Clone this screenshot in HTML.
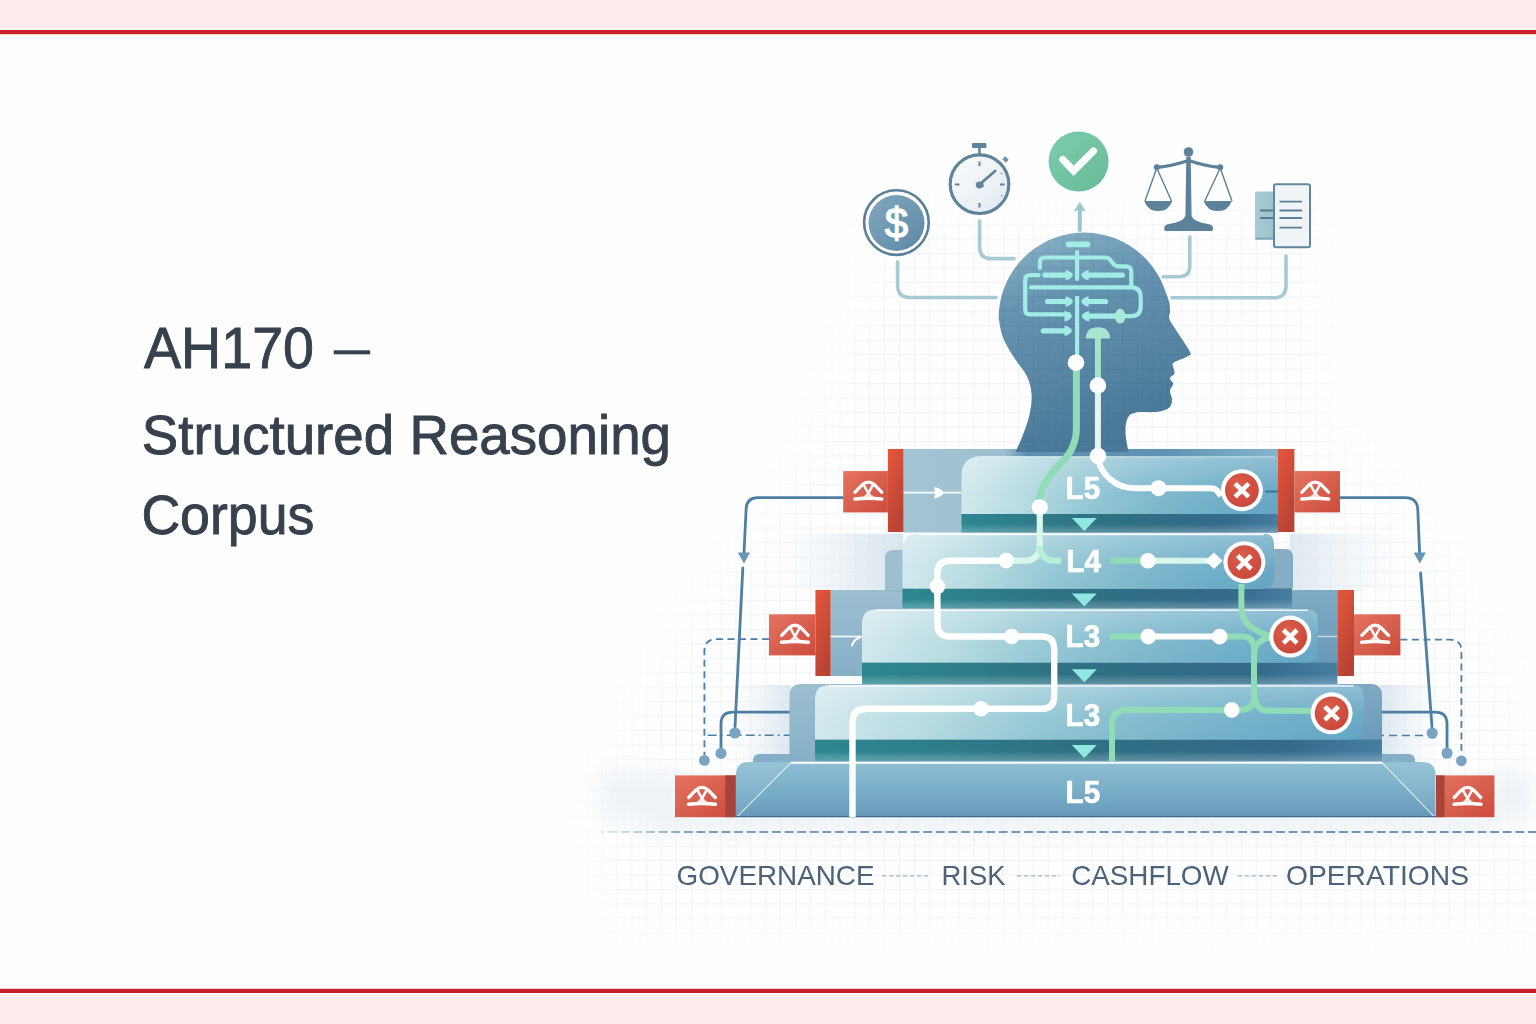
<!DOCTYPE html>
<html><head><meta charset="utf-8"><title>AH170 — Structured Reasoning Corpus</title>
<style>
html,body{margin:0;padding:0;background:#fefefe;}
body{width:1536px;height:1024px;overflow:hidden;position:relative;font-family:"Liberation Sans",sans-serif;}
svg{position:absolute;left:0;top:0;}
</style></head>
<body>
<svg width="1536" height="1024" viewBox="0 0 1536 1024">
<rect x="0" y="0" width="1536" height="1024" fill="#fefefe"/>
<rect x="0" y="0" width="1536" height="28.5" fill="#fcebed"/>
<rect x="0" y="30" width="1536" height="4.2" fill="#cb1f27"/>
<rect x="0" y="988.8" width="1536" height="4.2" fill="#c81e27"/>
<rect x="0" y="994.5" width="1536" height="29.5" fill="#fcebed"/>
<g font-family="Liberation Sans" fill="#36414d" font-size="56" stroke="#36414d" stroke-width="0.9">
<text x="144" y="367.7" font-size="57.5" textLength="170" lengthAdjust="spacingAndGlyphs">AH170</text>
<rect x="333.7" y="350.3" width="36.5" height="4" fill="#36414d" stroke="none"/>
<text x="141.8" y="453.6" textLength="529.2" lengthAdjust="spacingAndGlyphs">Structured Reasoning</text>
<text x="141.4" y="534" textLength="172.9" lengthAdjust="spacingAndGlyphs">Corpus</text>
</g>
<defs>
<pattern id="grid" width="14.867" height="14.454" patternUnits="userSpaceOnUse" x="7" y="7.2">
  <path d="M0 0.5H14.867M0.5 0V14.454" stroke="#e8eef3" stroke-width="1.2" fill="none"/>
</pattern>
<pattern id="gridd" width="14.867" height="14.454" patternUnits="userSpaceOnUse" x="7" y="7.2">
  <path d="M0 0.5H14.867M0.5 0V14.454" stroke="#2c5a78" stroke-opacity="0.12" stroke-width="1" fill="none"/>
</pattern>
<radialGradient id="gridfade" cx="1085" cy="620" r="440" gradientUnits="userSpaceOnUse" gradientTransform="translate(1085 620) scale(1 0.95) translate(-1085 -620)">
  <stop offset="0" stop-color="#fff" stop-opacity="0.55"/>
  <stop offset="0.7" stop-color="#fff" stop-opacity="0.42"/>
  <stop offset="1" stop-color="#fff" stop-opacity="0"/>
</radialGradient>
<filter id="mblur" x="-20%" y="-20%" width="140%" height="140%"><feGaussianBlur stdDeviation="22"/></filter><mask id="gmask" maskUnits="userSpaceOnUse" x="0" y="0" width="1536" height="1024"><path d="M885 214L1310 212L1330 430L1440 540L1515 690L1536 760L1536 930L600 930L598 770L690 610L785 490L850 340Z" fill="#fff" fill-opacity="0.6" filter="url(#mblur)"/></mask>
<linearGradient id="headg" x1="0" y1="0" x2="0.3" y2="1">
  <stop offset="0" stop-color="#8fb6c9"/>
  <stop offset="0.35" stop-color="#6593b0"/>
  <stop offset="1" stop-color="#4a7898"/>
</linearGradient>
<linearGradient id="coin" x1="0" y1="0" x2="1" y2="1">
  <stop offset="0" stop-color="#82a8bf"/>
  <stop offset="1" stop-color="#5c88a5"/>
</linearGradient>
<linearGradient id="watch" x1="0" y1="0" x2="1" y2="1">
  <stop offset="0" stop-color="#fbfcfd"/>
  <stop offset="1" stop-color="#e0e9ef"/>
</linearGradient>
<linearGradient id="chk" x1="0" y1="0" x2="1" y2="1">
  <stop offset="0" stop-color="#7ccdab"/>
  <stop offset="1" stop-color="#68bb98"/>
</linearGradient>
<linearGradient id="backA" x1="903" y1="0" x2="1278" y2="0" gradientUnits="userSpaceOnUse">
  <stop offset="0" stop-color="#a3c4d3"/>
  <stop offset="0.27" stop-color="#9dbfcf"/>
  <stop offset="0.33" stop-color="#5e8fb0"/>
  <stop offset="0.7" stop-color="#5f92b3"/>
  <stop offset="1" stop-color="#86b6cc"/>
</linearGradient>
<linearGradient id="backR" x1="0" y1="0" x2="0" y2="1">
  <stop offset="0" stop-color="#7eaac4"/>
  <stop offset="1" stop-color="#6596b6"/>
</linearGradient>
<linearGradient id="backp" x1="0" y1="0" x2="0" y2="1">
  <stop offset="0" stop-color="#9cbfd0"/>
  <stop offset="1" stop-color="#86afc6"/>
</linearGradient>
<linearGradient id="stepL" x1="0" y1="0" x2="1" y2="0">
  <stop offset="0" stop-color="#d0e8ec"/>
  <stop offset="0.2" stop-color="#b4dae0"/>
  <stop offset="0.4" stop-color="#93c6d4"/>
  <stop offset="0.6" stop-color="#7db8cc"/>
  <stop offset="0.8" stop-color="#6eaec8"/>
  <stop offset="1" stop-color="#64a5c3"/>
</linearGradient>
<linearGradient id="stepV" x1="0" y1="0" x2="0" y2="1">
  <stop offset="0" stop-color="#fff" stop-opacity="0.28"/>
  <stop offset="0.6" stop-color="#fff" stop-opacity="0.05"/>
  <stop offset="1" stop-color="#fff" stop-opacity="0"/>
</linearGradient>
<linearGradient id="band" x1="0" y1="0" x2="1" y2="0">
  <stop offset="0" stop-color="#2d8791"/>
  <stop offset="0.45" stop-color="#2f7183"/>
  <stop offset="0.82" stop-color="#336a89"/>
  <stop offset="1" stop-color="#467ea1"/>
</linearGradient>
<linearGradient id="bandV" x1="0" y1="0" x2="0" y2="1">
  <stop offset="0" stop-color="#ffffff" stop-opacity="0"/>
  <stop offset="0.55" stop-color="#ffffff" stop-opacity="0"/>
  <stop offset="1" stop-color="#cfe6ef" stop-opacity="0.28"/>
</linearGradient>
<linearGradient id="baseg" x1="0" y1="0" x2="0" y2="1">
  <stop offset="0" stop-color="#8ebed2"/>
  <stop offset="0.5" stop-color="#7aafc9"/>
  <stop offset="1" stop-color="#6699ba"/>
</linearGradient>
<linearGradient id="redsq" x1="0" y1="0" x2="1" y2="1">
  <stop offset="0" stop-color="#e4735f"/>
  <stop offset="1" stop-color="#cc4c3d"/>
</linearGradient>
<linearGradient id="redbar" x1="0" y1="0" x2="0.5" y2="1">
  <stop offset="0" stop-color="#e6583b"/>
  <stop offset="1" stop-color="#b84334"/>
</linearGradient>
<radialGradient id="xred" cx="0.4" cy="0.35" r="0.7">
  <stop offset="0" stop-color="#dd5e4c"/>
  <stop offset="1" stop-color="#c9473a"/>
</radialGradient>
<filter id="blur8" x="-50%" y="-50%" width="200%" height="200%"><feGaussianBlur stdDeviation="10"/></filter>
<filter id="blur4" x="-50%" y="-50%" width="200%" height="200%"><feGaussianBlur stdDeviation="4"/></filter>
<clipPath id="headclip"><path d="M1015.6 452 C1016.8 449.4 1020.2 442.2 1022.5 436.1 C1024.8 430.0 1027.8 422.4 1029.3 415.5 C1030.8 408.6 1032.0 401.3 1031.6 394.8 C1031.2 388.3 1029.9 382.5 1027.0 376.4 C1024.1 370.3 1018.4 364.6 1014.4 358.1 C1010.4 351.6 1005.6 344.1 1003.0 337.4 C1000.4 330.7 999.3 321.2 998.6 318.0 A85.6 85.6 0 0 1 1166 293 C1166.6 294.7 1168.7 299.8 1169.4 303.0 C1170.1 306.2 1170.0 309.2 1170.0 312.0 C1170.0 314.8 1168.1 315.8 1169.6 319.5 C1171.1 323.2 1175.6 329.1 1179.0 334.5 C1182.4 339.9 1188.5 348.4 1190.0 352.0 C1191.5 355.6 1190.9 354.2 1188.2 356.0 C1185.5 357.8 1176.3 360.7 1173.8 362.6 C1171.3 364.5 1173.3 365.7 1173.4 367.5 C1173.5 369.3 1175.1 371.7 1174.5 373.5 C1173.9 375.3 1170.0 376.7 1169.8 378.4 C1169.6 380.1 1173.2 381.6 1173.2 383.7 C1173.2 385.8 1170.2 388.1 1170.0 390.7 C1169.8 393.3 1172.1 396.7 1172.0 399.5 C1171.9 402.3 1171.7 405.3 1169.4 407.4 C1167.1 409.4 1163.7 410.9 1158.0 411.8 C1152.3 412.7 1140.2 411.5 1135.1 412.7 C1130.0 413.9 1129.0 415.4 1127.4 418.8 C1125.8 422.2 1125.3 427.4 1125.5 432.9 C1125.7 438.4 1128.0 448.8 1128.5 452.0Z"/></clipPath>
</defs>
<rect x="540" y="150" width="996" height="830" fill="url(#grid)" mask="url(#gmask)"/>
<linearGradient id="hzL" x1="0" y1="0" x2="1" y2="0"><stop offset="0" stop-color="#e2ebf2" stop-opacity="0"/><stop offset="1" stop-color="#d8e4ed"/></linearGradient><linearGradient id="hzR" x1="1" y1="0" x2="0" y2="0"><stop offset="0" stop-color="#e2ebf2" stop-opacity="0"/><stop offset="1" stop-color="#d8e4ed"/></linearGradient><linearGradient id="hzB" x1="0" y1="0" x2="0" y2="1"><stop offset="0" stop-color="#e4ecf2"/><stop offset="1" stop-color="#e4ecf2" stop-opacity="0"/></linearGradient>
<rect x="780" y="533.7" width="123" height="56" fill="url(#hzL)"/><rect x="1290" y="533.7" width="110" height="56" fill="url(#hzR)" opacity="0.8"/><rect x="735" y="685" width="56" height="76" fill="url(#hzL)" opacity="0.9"/><rect x="1380" y="685" width="56" height="76" fill="url(#hzR)" opacity="0.9"/>
<g filter="url(#blur4)"><rect x="840" y="595" width="30" height="80" fill="url(#hzL)" opacity="0.4"/><rect x="1310" y="595" width="30" height="80" fill="url(#hzR)" opacity="0.4"/></g><g filter="url(#blur8)"><rect x="640" y="812" width="860" height="30" fill="url(#hzB)"/><rect x="600" y="772" width="80" height="48" fill="#eef3f7"/><rect x="1490" y="772" width="40" height="48" fill="#eef3f7"/></g>
<g fill="none" stroke="#a8cad5" stroke-width="3.6" stroke-linecap="round"><path d="M897.6 262V285Q897.6 297.5 910 297.5H996"/><path d="M979.6 221V247Q979.6 258.6 991 258.6H1014"/><path d="M1189.8 237V266Q1189.8 276.7 1179 276.7H1163"/><path d="M1286 256V286Q1286 297.8 1274 297.8H1172"/><path d="M1079.8 230V210" stroke="#9cc5cf" stroke-width="4"/></g><path d="M1073.6 211.5L1079.8 202L1086 211.5Q1079.8 208.5 1073.6 211.5Z" fill="#9cc5cf"/>
<circle cx="896.4" cy="222.6" r="32.3" fill="#fff" stroke="#5b809b" stroke-width="2.6"/><circle cx="896.5" cy="223" r="28" fill="url(#coin)"/><text x="896.4" y="238.2" font-family="Liberation Sans" font-size="42" fill="#fff" text-anchor="middle" stroke="#fff" stroke-width="1.3">$</text>
<g stroke="#5e8499" fill="none"><circle cx="979.5" cy="184.2" r="29.3" fill="url(#watch)" stroke-width="3.2"/><path d="M979.5 148V154" stroke-width="2.6"/><path d="M979.5 161.5V166M979.5 203V207.5M955 184.5H959.5M1000 184.5H1004.5" stroke-width="2"/><path d="M1001 172.8L1002.5 174.2M1001 196.5L1002.4 195" stroke-width="1.2" opacity="0.7"/><path d="M979.5 184.5L995.2 171" stroke-width="2.8" stroke-linecap="round"/></g><rect x="972" y="143" width="14.4" height="5" rx="1.2" fill="#5e8499"/><rect x="1003" y="157.5" width="5" height="4" transform="rotate(45 1005.5 159.5)" fill="#6f93a6"/><path d="M975.5 183.5Q978 180 983 182.5L984 186Q981 190 976.5 187.5Z" fill="#5e8499"/>
<circle cx="1078.6" cy="161.5" r="30" fill="url(#chk)"/><path d="M1062.8 159.6L1073.6 170.8L1093.5 151" fill="none" stroke="#fff" stroke-width="7.2" stroke-linecap="round" stroke-linejoin="miter"/>
<g fill="#5d8199" stroke="#5d8199"><circle cx="1188.5" cy="152" r="4.8" stroke="none"/><path d="M1156.5 167.5Q1172 166 1188.5 160.5Q1205 166 1220.5 167.5" fill="none" stroke-width="3.4" stroke-linecap="round"/><circle cx="1156.8" cy="167.3" r="3" stroke="none"/><circle cx="1220.2" cy="167.3" r="3" stroke="none"/><path d="M1156.8 168L1145 201M1156.8 168L1171.5 201M1220.2 168L1204.8 201M1220.2 168L1232 201" fill="none" stroke-width="1.4"/><path d="M1144.3 201H1172.3Q1169 211 1158.3 211Q1147.6 211 1144.3 201Z" stroke="none"/><path d="M1203.8 201H1231.8Q1228.5 211 1217.8 211Q1207 211 1203.8 201Z" stroke="none"/><path d="M1186.3 157H1190.7L1191.6 216Q1194 222 1208 224Q1213 224.5 1213 228V229.5Q1213 231 1211 231H1166.3Q1164.3 231 1164.3 229.5V228Q1164.3 224.5 1169 224Q1183 222 1185.4 216Z" stroke="none"/></g>
<linearGradient id="docb" x1="0" y1="0" x2="1" y2="0"><stop offset="0" stop-color="#a6cbd3"/><stop offset="1" stop-color="#9cc2cc"/></linearGradient><rect x="1255" y="191.5" width="19" height="48.5" rx="1.5" fill="url(#docb)"/><path d="M1255.5 238.5H1273" stroke="#7aa3b4" stroke-width="1.5"/><path d="M1260 210.5H1273M1260 218H1273" stroke="#557d96" stroke-width="2"/><rect x="1274" y="184.3" width="36" height="63" rx="2" fill="#f0f4f7" stroke="#5f87a0" stroke-width="2"/><path d="M1279.5 201.7H1302M1279.5 210.5H1302M1279.5 218H1302M1279.5 227.7H1302" stroke="#5b7f98" stroke-width="1.8"/>
<g fill="none" stroke="#4d7fa5" stroke-width="2.8" stroke-linecap="round"><path d="M843 497.6H758Q746.3 497.6 746.1 509.5L744 553"/><path d="M742.8 568L735 727"/><path d="M1340 497.6H1405Q1417.5 497.6 1417.8 510L1419.6 553"/><path d="M1420.6 573L1432 727"/><path d="M815 712.2H733Q721 712.2 721 724V748" /><path d="M1363.6 712.2H1435Q1447 712.2 1447 724V748" /></g>
<path d="M737.8 552.5H750L744 563.5Z" fill="#6a94b3"/><path d="M1413.6 552.5H1425.8L1419.8 563.5Z" fill="#6a94b3"/>
<g fill="none" stroke="#4d7fa5" stroke-width="1.8" stroke-dasharray="7 4.5"><path d="M769 639.2H716Q704.4 639.2 704.4 651V755"/><path d="M1400.4 639.7H1450Q1461.4 639.7 1461.4 651V755"/></g><g fill="none" stroke="#4d7fa5" stroke-width="1.6" stroke-dasharray="9 4 2 4"><path d="M707.7 735.3H815"/></g><g fill="none" stroke="#4d7fa5" stroke-width="1.6" stroke-dasharray="8 5"><path d="M1363 735.5H1427"/></g>
<g fill="#7aa5c2"><circle cx="735" cy="733" r="5.6"/><circle cx="721" cy="753.4" r="5.6"/><circle cx="704.4" cy="760.4" r="5.4"/><circle cx="1432.2" cy="733.2" r="5.6"/><circle cx="1447" cy="753.2" r="5.6"/><circle cx="1461.4" cy="760.8" r="5.4"/></g>
<rect x="903.5" y="449" width="374.5" height="83.5" fill="url(#backA)"/>
<rect x="830.6" y="590" width="506.8" height="86" fill="url(#backp)"/>
<rect x="1290" y="590" width="47.4" height="86" fill="url(#backR)"/>
<path d="M789.5 760V696Q789.5 684 801.5 684H1370Q1382 684 1382 696V760Z" fill="url(#backp)"/>
<path d="M1340 760V684H1370Q1382 684 1382 696V760Z" fill="url(#backR)"/>
<path d="M885 592V558Q885 550 893 550H914V592Z" fill="#94b7cb" opacity="0.85"/>
<rect x="1262" y="549" width="31" height="44" rx="7" fill="#7aa4bf" opacity="0.9"/>
<path d="M1015.6 452 C1016.8 449.4 1020.2 442.2 1022.5 436.1 C1024.8 430.0 1027.8 422.4 1029.3 415.5 C1030.8 408.6 1032.0 401.3 1031.6 394.8 C1031.2 388.3 1029.9 382.5 1027.0 376.4 C1024.1 370.3 1018.4 364.6 1014.4 358.1 C1010.4 351.6 1005.6 344.1 1003.0 337.4 C1000.4 330.7 999.3 321.2 998.6 318.0 A85.6 85.6 0 0 1 1166 293 C1166.6 294.7 1168.7 299.8 1169.4 303.0 C1170.1 306.2 1170.0 309.2 1170.0 312.0 C1170.0 314.8 1168.1 315.8 1169.6 319.5 C1171.1 323.2 1175.6 329.1 1179.0 334.5 C1182.4 339.9 1188.5 348.4 1190.0 352.0 C1191.5 355.6 1190.9 354.2 1188.2 356.0 C1185.5 357.8 1176.3 360.7 1173.8 362.6 C1171.3 364.5 1173.3 365.7 1173.4 367.5 C1173.5 369.3 1175.1 371.7 1174.5 373.5 C1173.9 375.3 1170.0 376.7 1169.8 378.4 C1169.6 380.1 1173.2 381.6 1173.2 383.7 C1173.2 385.8 1170.2 388.1 1170.0 390.7 C1169.8 393.3 1172.1 396.7 1172.0 399.5 C1171.9 402.3 1171.7 405.3 1169.4 407.4 C1167.1 409.4 1163.7 410.9 1158.0 411.8 C1152.3 412.7 1140.2 411.5 1135.1 412.7 C1130.0 413.9 1129.0 415.4 1127.4 418.8 C1125.8 422.2 1125.3 427.4 1125.5 432.9 C1125.7 438.4 1128.0 448.8 1128.5 452.0Z" fill="url(#headg)"/>
<rect x="990" y="225" width="210" height="235" fill="url(#gridd)" clip-path="url(#headclip)"/>
<rect x="753" y="754" width="662" height="14" rx="6" fill="#84afc7"/>
<rect x="961.5" y="514" width="316.5" height="18.5" fill="url(#band)"/><rect x="961.5" y="514" width="316.5" height="18.5" fill="url(#bandV)"/><path d="M961.5 514V476.3Q961.5 456.3 981.5 456.3H1275Q1278 456.3 1278 459.3V511Q1278 514 1275 514Z" fill="url(#stepL)"/><path d="M961.5 514V476.3Q961.5 456.3 981.5 456.3H1275Q1278 456.3 1278 459.3V511Q1278 514 1275 514Z" fill="url(#stepV)"/><path d="M981.5 457.0H1275" stroke="#ffffff" stroke-opacity="0.35" stroke-width="1.6"/>
<rect x="902.5" y="588.4" width="389.5" height="19.800000000000068" fill="url(#band)"/><rect x="902.5" y="588.4" width="389.5" height="19.800000000000068" fill="url(#bandV)"/><path d="M902.5 588.4V549.7Q902.5 533.7 918.5 533.7H1264Q1274 533.7 1274 543.7V578.4Q1274 588.4 1264 588.4Z" fill="url(#stepL)"/><path d="M902.5 588.4V549.7Q902.5 533.7 918.5 533.7H1264Q1274 533.7 1274 543.7V578.4Q1274 588.4 1264 588.4Z" fill="url(#stepV)"/><path d="M918.5 534.4000000000001H1264" stroke="#ffffff" stroke-opacity="0.85" stroke-width="1.6"/>
<rect x="862" y="662.6" width="475.4000000000001" height="21.399999999999977" fill="url(#band)"/><rect x="862" y="662.6" width="475.4000000000001" height="21.399999999999977" fill="url(#bandV)"/><path d="M862 662.6V623.5Q862 609.5 876 609.5H1308Q1318 609.5 1318 619.5V652.6Q1318 662.6 1308 662.6Z" fill="url(#stepL)"/><path d="M862 662.6V623.5Q862 609.5 876 609.5H1308Q1318 609.5 1318 619.5V652.6Q1318 662.6 1308 662.6Z" fill="url(#stepV)"/><path d="M876 610.2H1308" stroke="#ffffff" stroke-opacity="0.85" stroke-width="1.6"/>
<rect x="815" y="739.5" width="567" height="21.299999999999955" fill="url(#band)"/><rect x="815" y="739.5" width="567" height="21.299999999999955" fill="url(#bandV)"/><path d="M815 739.5V699.3Q815 685.3 829 685.3H1353.6Q1363.6 685.3 1363.6 695.3V729.5Q1363.6 739.5 1353.6 739.5Z" fill="url(#stepL)"/><path d="M815 739.5V699.3Q815 685.3 829 685.3H1353.6Q1363.6 685.3 1363.6 695.3V729.5Q1363.6 739.5 1353.6 739.5Z" fill="url(#stepV)"/><path d="M829 686.0H1353.6" stroke="#ffffff" stroke-opacity="0.85" stroke-width="1.6"/>
<path d="M736 817V775Q736 762 749 762H1422Q1435.5 762 1435.5 775V817Z" fill="url(#baseg)"/>
<path d="M791 762.5L737 816.5L736 817V775Q736 762 749 762Z" fill="#ffffff" fill-opacity="0.08"/>
<path d="M1382 762.5L1434 816.5L1435.5 817V775Q1435.5 762 1422 762Z" fill="#ffffff" fill-opacity="0.08"/>
<path d="M791 762.6L737.5 816.3M1382 762.6L1434 816.3" stroke="#e8f4f8" stroke-width="1.1" opacity="0.9"/>
<path d="M791 762.8H1382" stroke="#ffffff" stroke-width="2"/>
<path d="M736 816.6H1436" stroke="#3b6e92" stroke-width="1.4"/>
<rect x="843.2" y="471.1" width="44.69999999999993" height="41.299999999999955" fill="url(#redsq)"/><rect x="887.9" y="449" width="15.600000000000023" height="83" fill="url(#redbar)"/><path d="M860.8499999999999 498.20000000000005L868.3499999999999 491.90000000000003L875.8499999999999 498.20000000000005Z" fill="#f6d2ca" opacity="0.85"/><g fill="none" stroke="#fff" stroke-linecap="round" stroke-linejoin="round"><path d="M855.05 492.20000000000005L862.3499999999999 484.6Q868.3499999999999 479.6 874.3499999999999 484.6L881.6499999999999 492.20000000000005" stroke-width="3.3"/><path d="M854.9499999999999 499.00000000000006Q868.3499999999999 497.40000000000003 881.7499999999999 499.00000000000006" stroke-width="3.5"/><path d="M863.7499999999999 484.8L868.3499999999999 493.40000000000003L872.9499999999999 484.8" stroke-width="2.6" stroke-opacity="0.95"/><path d="M868.3499999999999 493.40000000000003L864.9499999999999 498.00000000000006M868.3499999999999 493.40000000000003L871.7499999999999 498.00000000000006" stroke-width="1.5" stroke-opacity="0.8"/></g>
<rect x="1294.4" y="471.1" width="45.59999999999991" height="41.299999999999955" fill="url(#redsq)"/><rect x="1278" y="449" width="16.40000000000009" height="83" fill="url(#redbar)"/><path d="M1307.7 498.20000000000005L1315.2 491.90000000000003L1322.7 498.20000000000005Z" fill="#f6d2ca" opacity="0.85"/><g fill="none" stroke="#fff" stroke-linecap="round" stroke-linejoin="round"><path d="M1301.9 492.20000000000005L1309.2 484.6Q1315.2 479.6 1321.2 484.6L1328.5 492.20000000000005" stroke-width="3.3"/><path d="M1301.8 499.00000000000006Q1315.2 497.40000000000003 1328.6000000000001 499.00000000000006" stroke-width="3.5"/><path d="M1310.6000000000001 484.8L1315.2 493.40000000000003L1319.8 484.8" stroke-width="2.6" stroke-opacity="0.95"/><path d="M1315.2 493.40000000000003L1311.8 498.00000000000006M1315.2 493.40000000000003L1318.6000000000001 498.00000000000006" stroke-width="1.5" stroke-opacity="0.8"/></g>
<rect x="769" y="614.3" width="46.39999999999998" height="41.10000000000002" fill="url(#redsq)"/><rect x="815.4" y="590" width="15.200000000000045" height="86" fill="url(#redbar)"/><path d="M787.5 641.3999999999999L795.0 635.0999999999999L802.5 641.3999999999999Z" fill="#f6d2ca" opacity="0.85"/><g fill="none" stroke="#fff" stroke-linecap="round" stroke-linejoin="round"><path d="M781.7 635.3999999999999L789.0 627.8Q795.0 622.8 801.0 627.8L808.3 635.3999999999999" stroke-width="3.3"/><path d="M781.6 642.1999999999999Q795.0 640.5999999999999 808.4 642.1999999999999" stroke-width="3.5"/><path d="M790.4 627.9999999999999L795.0 636.5999999999999L799.6 627.9999999999999" stroke-width="2.6" stroke-opacity="0.95"/><path d="M795.0 636.5999999999999L791.6 641.1999999999999M795.0 636.5999999999999L798.4 641.1999999999999" stroke-width="1.5" stroke-opacity="0.8"/></g>
<rect x="1354" y="614.3" width="46.40000000000009" height="41.10000000000002" fill="url(#redsq)"/><rect x="1337.4" y="590" width="16.59999999999991" height="86" fill="url(#redbar)"/><path d="M1367.7 641.3999999999999L1375.2 635.0999999999999L1382.7 641.3999999999999Z" fill="#f6d2ca" opacity="0.85"/><g fill="none" stroke="#fff" stroke-linecap="round" stroke-linejoin="round"><path d="M1361.9 635.3999999999999L1369.2 627.8Q1375.2 622.8 1381.2 627.8L1388.5 635.3999999999999" stroke-width="3.3"/><path d="M1361.8 642.1999999999999Q1375.2 640.5999999999999 1388.6000000000001 642.1999999999999" stroke-width="3.5"/><path d="M1370.6000000000001 627.9999999999999L1375.2 636.5999999999999L1379.8 627.9999999999999" stroke-width="2.6" stroke-opacity="0.95"/><path d="M1375.2 636.5999999999999L1371.8 641.1999999999999M1375.2 636.5999999999999L1378.6000000000001 641.1999999999999" stroke-width="1.5" stroke-opacity="0.8"/></g>
<rect x="675" y="775.4" width="60.7" height="41.8" fill="url(#redsq)"/><rect x="725.2" y="775.4" width="10.5" height="41.8" fill="#a8443a"/>
<path d="M694.5 803.5L702 797.2L709.5 803.5Z" fill="#f6d2ca" opacity="0.85"/><g fill="none" stroke="#fff" stroke-linecap="round" stroke-linejoin="round"><path d="M688.7 797.5L696 789.9000000000001Q702 784.9000000000001 708 789.9000000000001L715.3 797.5" stroke-width="3.3"/><path d="M688.6 804.3000000000001Q702 802.7 715.4 804.3000000000001" stroke-width="3.5"/><path d="M697.4 790.1L702 798.7L706.6 790.1" stroke-width="2.6" stroke-opacity="0.95"/><path d="M702 798.7L698.6 803.3000000000001M702 798.7L705.4 803.3000000000001" stroke-width="1.5" stroke-opacity="0.8"/></g>
<rect x="1436" y="775.4" width="58.4" height="41.8" fill="url(#redsq)"/><rect x="1436" y="775.4" width="8.5" height="41.8" fill="#a8443a"/>
<path d="M1460.0 803.5L1467.5 797.2L1475.0 803.5Z" fill="#f6d2ca" opacity="0.85"/><g fill="none" stroke="#fff" stroke-linecap="round" stroke-linejoin="round"><path d="M1454.2 797.5L1461.5 789.9000000000001Q1467.5 784.9000000000001 1473.5 789.9000000000001L1480.8 797.5" stroke-width="3.3"/><path d="M1454.1 804.3000000000001Q1467.5 802.7 1480.9 804.3000000000001" stroke-width="3.5"/><path d="M1462.9 790.1L1467.5 798.7L1472.1 790.1" stroke-width="2.6" stroke-opacity="0.95"/><path d="M1467.5 798.7L1464.1 803.3000000000001M1467.5 798.7L1470.9 803.3000000000001" stroke-width="1.5" stroke-opacity="0.8"/></g>
<g fill="none" stroke="#a2ece6" stroke-width="4.2" stroke-linecap="round" stroke-linejoin="round"><path d="M1068.5 244.4H1087.5" stroke-width="5.6"/><path d="M1077.1 252V279"/><path d="M1039.9 268V262Q1039.9 257.5 1044.5 257.5H1105Q1109 257.5 1111 261L1113 263.5Q1115 266.3 1119 266.3H1126Q1131.3 266.3 1131.3 271.5V285"/><path d="M1038.5 275.1H1030Q1025.2 275.1 1025.2 280V309.5Q1025.2 314.4 1030 314.4H1069"/><path d="M1031 287.4H1131Q1140.7 287.4 1140.7 297V306.5Q1140.7 316.2 1131 316.2H1121"/></g><g fill="none" stroke="#a2ece6" stroke-width="5.2" stroke-linecap="round"><path d="M1045 275.1H1067"/><path d="M1087 275.1H1122.5"/><path d="M1047.5 301.5H1067"/><path d="M1087 301.5H1105.5"/><path d="M1087 316.2H1115"/><path d="M1043.3 330.8H1067"/></g>
<path d="M1065.5 269.90000000000003Q1071.5 271.1 1073.0 275.1Q1071.5 279.1 1065.5 280.3Z" fill="#a2ece6"/><path d="M1088.6 269.90000000000003Q1082.6 271.1 1081.1 275.1Q1082.6 279.1 1088.6 280.3Z" fill="#a2ece6"/><path d="M1065.5 296.3Q1071.5 297.5 1073.0 301.5Q1071.5 305.5 1065.5 306.7Z" fill="#a2ece6"/><path d="M1088.6 296.3Q1082.6 297.5 1081.1 301.5Q1082.6 305.5 1088.6 306.7Z" fill="#a2ece6"/><path d="M1064.5 311.0Q1070.5 312.2 1072.0 316.2Q1070.5 320.2 1064.5 321.4Z" fill="#a2ece6"/><path d="M1089.2 311.0Q1083.2 312.2 1081.7 316.2Q1083.2 320.2 1089.2 321.4Z" fill="#a2ece6"/><path d="M1064.5 325.6Q1070.5 326.8 1072.0 330.8Q1070.5 334.8 1064.5 336.0Z" fill="#a2ece6"/>
<ellipse cx="1120.2" cy="316.2" rx="5.3" ry="7.4" fill="#a8ead6"/>
<path d="M1085.8 338.5Q1086 327.3 1097.9 327.3Q1109.8 327.3 1110 338.5Z" fill="#a8e6cf"/>
<path d="M1077.1 296V356" stroke="#a2ece6" stroke-width="4.2" fill="none"/>
<path d="M1097.9 338V380" stroke="#a5e3c6" stroke-width="6" fill="none"/>
<path d="M1076.4 362.7V428Q1076.4 448 1062 462Q1040 484 1039.8 500" stroke="#8fdcb6" stroke-width="7" fill="none" stroke-linecap="round"/>
<path d="M1039.8 507V546Q1039.8 558 1028 560.6H1006.4" stroke="#d8f6ea" stroke-width="6.2" fill="none"/>
<path d="M1039.8 546Q1039.8 558 1051.6 560.6H1061" stroke="#b4f0d6" stroke-width="6.2" fill="none"/>
<path d="M1097.9 385V452" stroke="#e4f6ef" stroke-width="6" fill="none"/>
<path d="M1097.9 452V456Q1099 470 1110 479Q1120 488.2 1135 488.2H1210Q1216 488.2 1218 492L1221 496" stroke="#ffffff" stroke-width="6" fill="none"/>
<path d="M1006.4 560.8H950Q937.4 560.8 937.4 573V624Q937.4 636.5 950 636.5H1042Q1054.2 636.5 1054.2 649V696Q1054.2 708.8 1042 708.8H866Q852.5 708.8 852.5 722V817" stroke="#ffffff" stroke-width="6.4" fill="none"/>
<path d="M1110 560.7H1142" stroke="#8fdcb6" stroke-width="6" fill="none"/>
<path d="M1148 560.7H1212" stroke="#d8f6ea" stroke-width="6" fill="none"/>
<path d="M1205 560.7L1214 552.5L1222.5 560.7L1214 569Z" fill="#fff"/>
<path d="M1241.4 584V606Q1241.4 622 1254 629Q1262 634 1270 636" stroke="#8fdcb6" stroke-width="6" fill="none"/>
<path d="M1109.3 636.6H1142" stroke="#8fdcb6" stroke-width="6" fill="none"/>
<path d="M1148.3 636.6H1219.7" stroke="#ffffff" stroke-width="6" fill="none"/>
<path d="M1219.7 636.6H1242Q1254 636.6 1254 649" stroke="#8fdcb6" stroke-width="6" fill="none"/>
<path d="M1270 637.5Q1256 640 1254 652" stroke="#8fdcb6" stroke-width="6" fill="none"/>
<path d="M1254 648V696Q1254 709.9 1240 709.9H1126Q1112 709.9 1112 724V761" stroke="#8fdcb6" stroke-width="6" fill="none"/>
<path d="M1254 690Q1254 710.8 1268 710.8H1312" stroke="#8fdcb6" stroke-width="6" fill="none"/>
<circle cx="1076" cy="362.7" r="8.3" fill="#ffffff"/><circle cx="1097.9" cy="385.5" r="8.3" fill="#ffffff"/><circle cx="1098" cy="456" r="8.3" fill="#ffffff"/><circle cx="1039.8" cy="507.3" r="8.1" fill="#ffffff"/><circle cx="1158.5" cy="488.2" r="8" fill="#ffffff"/><circle cx="1006.2" cy="560.6" r="7.8" fill="#ffffff"/><circle cx="1148" cy="560.7" r="7.8" fill="#ffffff"/><circle cx="937.4" cy="586.4" r="7.8" fill="#ffffff"/><circle cx="1011.6" cy="636.5" r="7.8" fill="#ffffff"/><circle cx="1148.3" cy="636.6" r="7.8" fill="#ffffff"/><circle cx="1219.7" cy="636.6" r="7.8" fill="#ffffff"/><circle cx="981" cy="708.8" r="7.8" fill="#ffffff"/><circle cx="1231.8" cy="709.9" r="7.8" fill="#ffffff"/>
<circle cx="1241.9" cy="490.2" r="21" fill="#fff"/><circle cx="1241.9" cy="490.2" r="16.9" fill="url(#xred)"/><path d="M1235.1000000000001 483.59999999999997L1248.7 496.8M1248.7 483.59999999999997L1235.1000000000001 496.8" stroke="#fff" stroke-width="4.6"/><circle cx="1244.4" cy="562.2" r="21" fill="#fff"/><circle cx="1244.4" cy="562.2" r="16.9" fill="url(#xred)"/><path d="M1237.6000000000001 555.6L1251.2 568.8000000000001M1251.2 555.6L1237.6000000000001 568.8000000000001" stroke="#fff" stroke-width="4.6"/><circle cx="1290.2" cy="636.6" r="21" fill="#fff"/><circle cx="1290.2" cy="636.6" r="16.9" fill="url(#xred)"/><path d="M1283.4 630.0L1297.0 643.2M1297.0 630.0L1283.4 643.2" stroke="#fff" stroke-width="4.6"/><circle cx="1331.6" cy="713.3" r="21" fill="#fff"/><circle cx="1331.6" cy="713.3" r="16.9" fill="url(#xred)"/><path d="M1324.8 706.6999999999999L1338.3999999999999 719.9M1338.3999999999999 706.6999999999999L1324.8 719.9" stroke="#fff" stroke-width="4.6"/>
<path d="M1265 491.5H1278" stroke="#3d7497" stroke-width="2"/>
<path d="M903.5 492.7H961" stroke="#fff" stroke-width="1.8"/><path d="M934 487.3Q941 488 943.8 492.7Q941 497.5 934 498.5Q936 492.7 934 487.3Z" fill="#fff"/>
<path d="M830.6 636.5H862" stroke="#fff" stroke-width="1.8" opacity="0.85"/><path d="M852 645.5Q853.5 639.5 860 637.5" stroke="#fff" stroke-width="2" fill="none" stroke-linecap="round"/>
<path d="M1318 636.5H1337.4" stroke="#fff" stroke-width="1.5" opacity="0.6"/>
<path d="M1071.8 518H1096.8L1084.3 531Z" fill="#8fe9e1"/><path d="M1071.8 593.5H1096.8L1084.3 606.5Z" fill="#8fe9e1"/><path d="M1071.8 669.3H1096.8L1084.3 682.3Z" fill="#8fe9e1"/><path d="M1071.8 745H1096.8L1084.3 758Z" fill="#8fe9e1"/>
<text x="1065.6" y="499.4" font-family="Liberation Sans" font-weight="bold" font-size="30.5" fill="#fff" stroke="#fff" stroke-width="0.7" textLength="34.6" lengthAdjust="spacingAndGlyphs">L5</text><text x="1066.3" y="572.4" font-family="Liberation Sans" font-weight="bold" font-size="30.5" fill="#fff" stroke="#fff" stroke-width="0.7" textLength="34.6" lengthAdjust="spacingAndGlyphs">L4</text><text x="1065.6" y="647.4" font-family="Liberation Sans" font-weight="bold" font-size="30.5" fill="#fff" stroke="#fff" stroke-width="0.7" textLength="34.6" lengthAdjust="spacingAndGlyphs">L3</text><text x="1065.6" y="726" font-family="Liberation Sans" font-weight="bold" font-size="30.5" fill="#fff" stroke="#fff" stroke-width="0.7" textLength="34.6" lengthAdjust="spacingAndGlyphs">L3</text><text x="1065.6" y="803" font-family="Liberation Sans" font-weight="bold" font-size="30.5" fill="#fff" stroke="#fff" stroke-width="0.7" textLength="34.6" lengthAdjust="spacingAndGlyphs">L5</text>
<linearGradient id="blfade" x1="601" y1="0" x2="1536" y2="0" gradientUnits="userSpaceOnUse"><stop offset="0" stop-color="#7d9ebd" stop-opacity="0.15"/><stop offset="0.1" stop-color="#6f93b5" stop-opacity="0.9"/><stop offset="1" stop-color="#6f93b5"/></linearGradient>
<path d="M601 832H1536" stroke="url(#blfade)" stroke-width="2" stroke-dasharray="8.7 3.9" stroke-dashoffset="5.3"/>
<text x="676.5" y="885.3" font-family="Liberation Sans" font-size="28.5" fill="#4b6279" textLength="198" lengthAdjust="spacingAndGlyphs">GOVERNANCE</text><text x="941.5" y="885.3" font-family="Liberation Sans" font-size="28.5" fill="#4b6279" textLength="64" lengthAdjust="spacingAndGlyphs">RISK</text><text x="1071.2" y="885.3" font-family="Liberation Sans" font-size="28.5" fill="#4b6279" textLength="157.5" lengthAdjust="spacingAndGlyphs">CASHFLOW</text><text x="1286" y="885.3" font-family="Liberation Sans" font-size="28.5" fill="#4b6279" textLength="183" lengthAdjust="spacingAndGlyphs">OPERATIONS</text>
<g stroke="#9db3c5" stroke-width="1.3" stroke-dasharray="4.5 2.5" fill="none"><path d="M882 875.8H928"/><path d="M1016.7 875.8H1059.7"/><path d="M1237.6 875.8H1277.8"/></g>
</svg>
</body></html>
